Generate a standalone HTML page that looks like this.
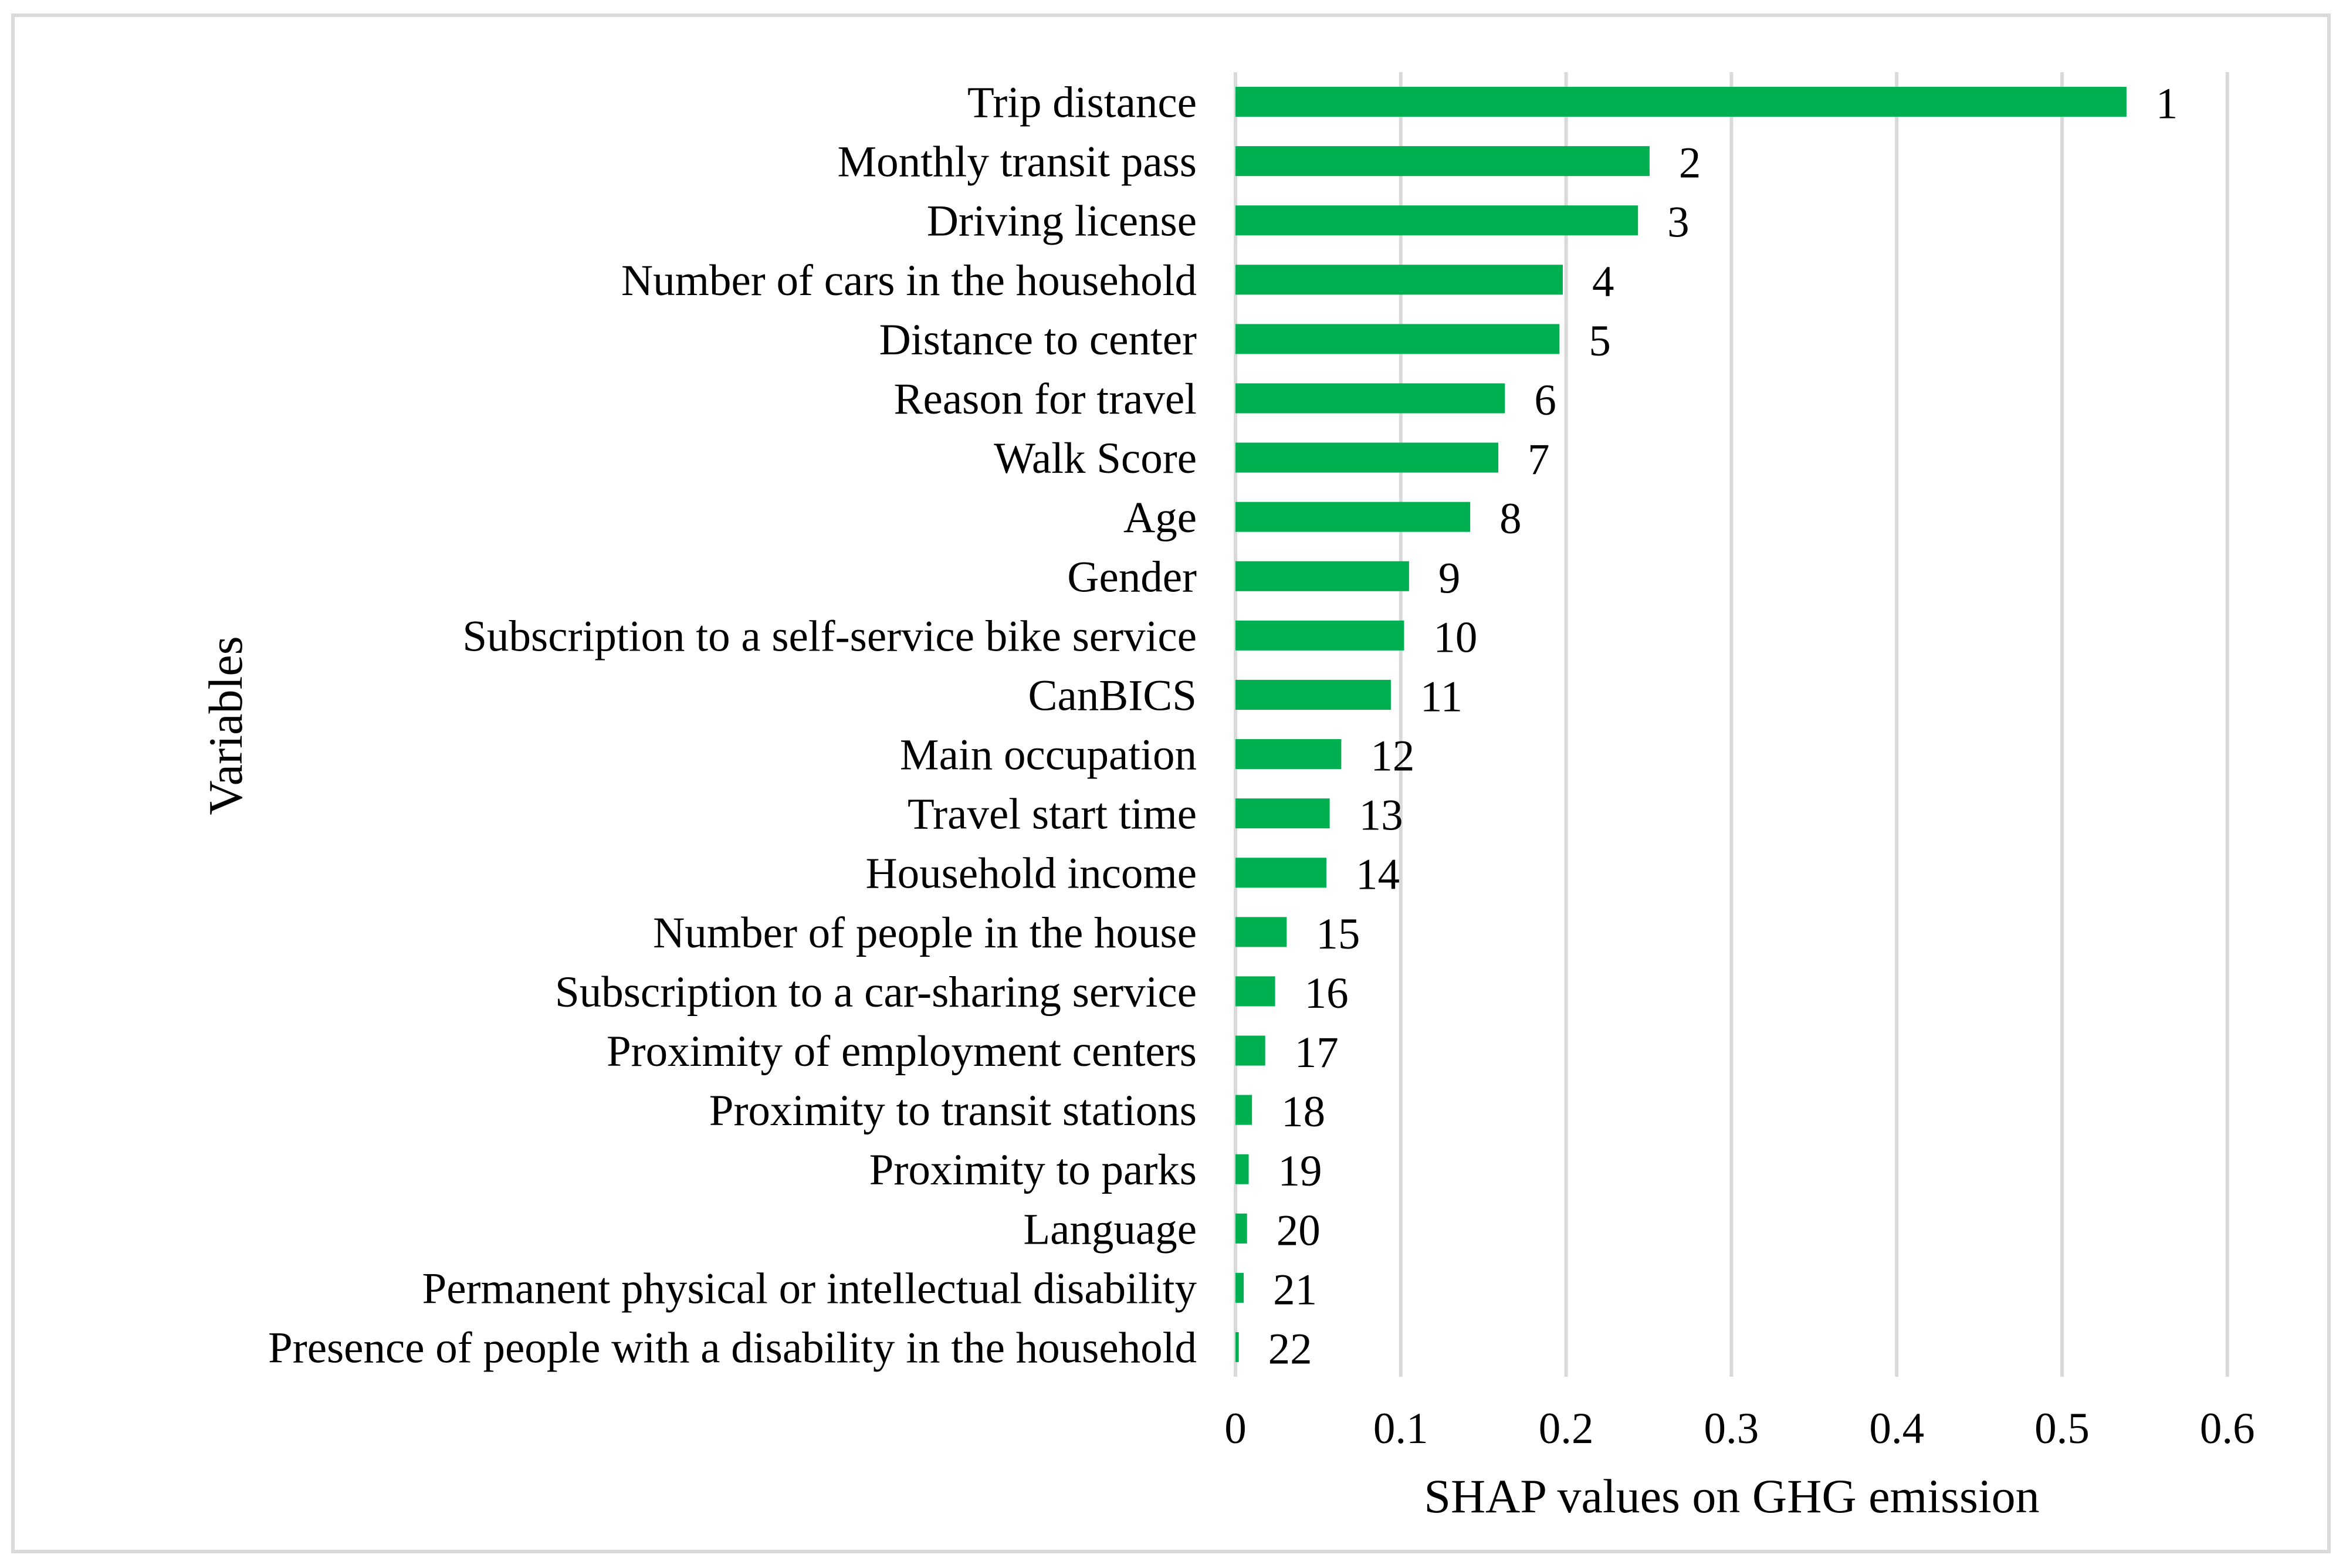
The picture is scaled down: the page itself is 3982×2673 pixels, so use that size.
<!DOCTYPE html>
<html><head><meta charset="utf-8"><style>
html,body{margin:0;padding:0;background:#fff;}
svg{display:block;font-family:"Liberation Serif","Times New Roman",serif;}
</style></head><body>
<svg id="chart" width="3982" height="2673" viewBox="0 0 3982 2673" xmlns="http://www.w3.org/2000/svg">
<rect x="22" y="26" width="3948" height="2619" fill="#fff" stroke="#d9d9d9" stroke-width="6"/>
<g id="grid"></g><g id="bars"></g><g id="labels"></g>
<text x="2952" y="2578" font-size="82" text-anchor="middle">SHAP values on GHG emission</text>
<text transform="translate(412,1237) rotate(-90)" font-size="82" text-anchor="middle">Variables</text>
</svg>
<script>
const categories = ["Trip distance","Monthly transit pass","Driving license","Number of cars in the household","Distance to center","Reason for travel ","Walk Score","Age","Gender","Subscription to a self-service bike service","CanBICS","Main occupation","Travel start time","Household income","Number of people in the house","Subscription to a car-sharing service","Proximity of employment centers","Proximity to transit stations","Proximity to parks","Language","Permanent physical or intellectual disability","Presence of people with a disability in the household"];
const values = [0.539,0.2505,0.2435,0.198,0.196,0.163,0.159,0.142,0.105,0.102,0.094,0.064,0.057,0.055,0.031,0.024,0.018,0.010,0.008,0.007,0.005,0.002];
const ranks = ["1","2","3","4","5","6","7","8","9","10","11","12","13","14","15","16","17","18","19","20","21","22"];
const ticks = [0,0.1,0.2,0.3,0.4,0.5,0.6];
const tickLabels = ["0","0.1","0.2","0.3","0.4","0.5","0.6"];

const NS="http://www.w3.org/2000/svg";
const X0=2106, PX_PER_UNIT=2818, TOP=123, BOTTOM=2347;
const band=(BOTTOM-TOP)/categories.length;
const xs=v=>X0+v*PX_PER_UNIT;
const yc=i=>TOP+band*(i+0.5);
function mk(tag,attrs,parent){const e=document.createElementNS(NS,tag);for(const k in attrs)e.setAttribute(k,attrs[k]);parent.appendChild(e);return e;}
const grid=document.getElementById('grid'),bars=document.getElementById('bars'),labels=document.getElementById('labels');
ticks.forEach((t,i)=>{
  const l=mk('line',{x1:xs(t),x2:xs(t),y1:TOP,y2:BOTTOM,stroke:'#d9d9d9','stroke-width':6},grid);
  
  
  const tx=mk('text',{x:xs(t),y:2460,'font-size':75,'text-anchor':'middle'},labels);
  tx.textContent=tickLabels[i];
  
  
});
categories.forEach((c,i)=>{
  const h=band*0.505;
  const r=mk('rect',{x:X0,y:yc(i)-h/2,width:Math.max(values[i]*PX_PER_UNIT,3),height:h,fill:'#00b050'},bars);
  
  
  const lb=mk('text',{x:2040,y:yc(i)+26,'font-size':75,'text-anchor':'end'},labels);
  lb.textContent=c;
  
  
  const rk=mk('text',{x:xs(values[i])+50,y:yc(i)+28,'font-size':75},labels);
  rk.textContent=ranks[i];
  
  
});
</script>
</body></html>
